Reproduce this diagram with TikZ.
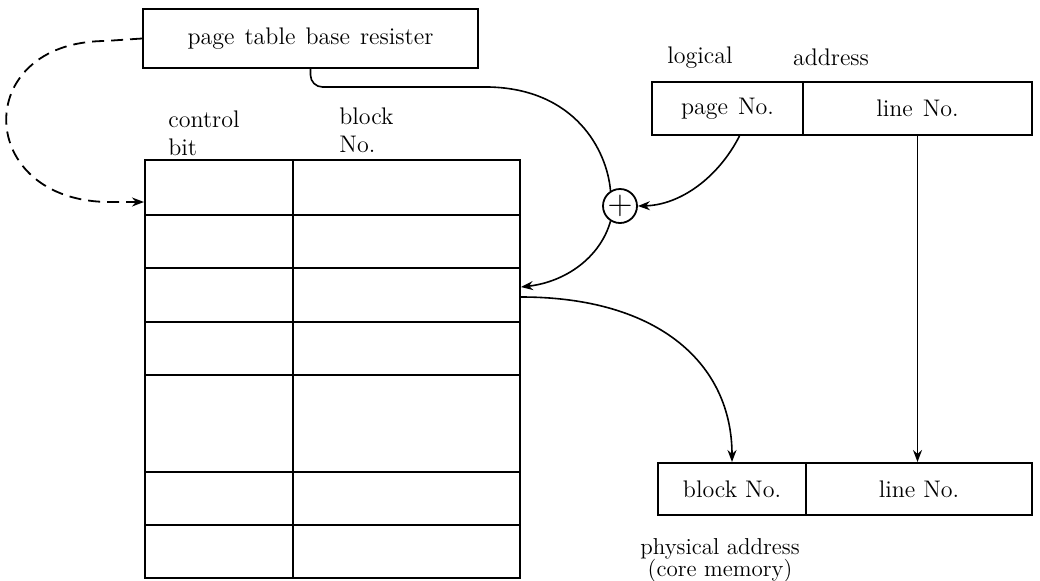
\documentclass[tikz,border=0pt]{standalone}
\usetikzlibrary{arrows.meta,calc}
\begin{document}
\begin{tikzpicture}[x=0.5pt,y=-0.5pt,
  box/.style={draw,line width=1pt,inner sep=0pt,font=\fontsize{12}{14}\selectfont},
  lbl/.style={inner sep=0pt,font=\fontsize{12}{14}\selectfont},
  tline/.style={line width=0.8pt},
  conn/.style={line width=0.8pt,-{Stealth[length=6pt,width=4.5pt]}},
  dashconn/.style={line width=0.9pt,dashed,dash pattern=on 6pt off 3.5pt,-{Stealth[length=6pt,width=4.5pt]}}]
\useasboundingbox (0,0) rectangle (1040,580);

% page table base register
\node[box,minimum width=167.5pt,minimum height=29.5pt] (ptbr) at (310.5,38.5) {page\hspace{5pt}table\hspace{5pt}base\hspace{5pt}resister};

% table
\node[draw,line width=1pt,inner sep=0pt,minimum width=187.5pt,minimum height=209pt] (tbl) at (332.5,369) {};
\foreach \yy in {215,268,322,375,472,525}
  \draw[tline] (tbl.west |- 0,\yy) -- (tbl.east |- 0,\yy);
\draw[tline] (293,0 |- tbl.north) -- (293,0 |- tbl.south);
\coordinate (tin) at (tbl.west |- 0,202);
\coordinate (tret) at (tbl.east |- 0,287);
\coordinate (tout) at (tbl.east |- 0,297);

\node[lbl,anchor=west,align=left] (ctl) at (168,133) {control\\bit};
\node[lbl,anchor=west,align=left] (blk) at (339,130) {block\\No.};

% adder
\node[draw,circle,line width=0.9pt,minimum size=17pt,inner sep=0pt] (circ) at (620,206) {\fontsize{16}{16}\selectfont$+$};

% logical address
\node[box,minimum width=75.5pt,minimum height=26.5pt] (lpage) at (727.5,108.5) {page\hspace{5pt}No.};
\node[box,minimum width=114.5pt,minimum height=26.5pt] (lline) at (917.5,108.5) {line\hspace{5pt}No.};
\node[lbl] (lgl) at (700,58) {logical};
\node[lbl] (adr) at (831,57) {address};

% physical address
\node[box,minimum width=74pt,minimum height=26pt] (pblock) at (732,489) {block\hspace{4pt}No.};
\node[box,minimum width=113pt,minimum height=26pt] (pline) at (919,489) {line\hspace{4pt}No.};
\node[lbl,align=center,font=\fontsize{11.5}{11}\selectfont] (phys) at (720,560) {physical address\\(core memory)};

% connectors
\draw[dashconn] (ptbr.west) -- (105,41) .. controls (-30,42) and (-25,202) .. (110,202) -- (tin);
\draw[line width=0.8pt,rounded corners=6pt] (ptbr.south) -- (310.5,87) -- (490,87);
\draw[line width=0.8pt] (489,87) .. controls (575,89) and (607,150) .. (circ.122);
\draw[conn] (circ.238) .. controls (600,258) and (565,282) .. (tret);
\draw[conn] ($(lpage.south)+(12,0)$) .. controls (718,178) and (680,205) .. (circ.east);
\draw[conn] (tout) .. controls (660,297) and (732,365) .. (pblock.north);
\draw[conn] (lline.south) -- (lline.south |- pline.north);
\end{tikzpicture}
\end{document}
